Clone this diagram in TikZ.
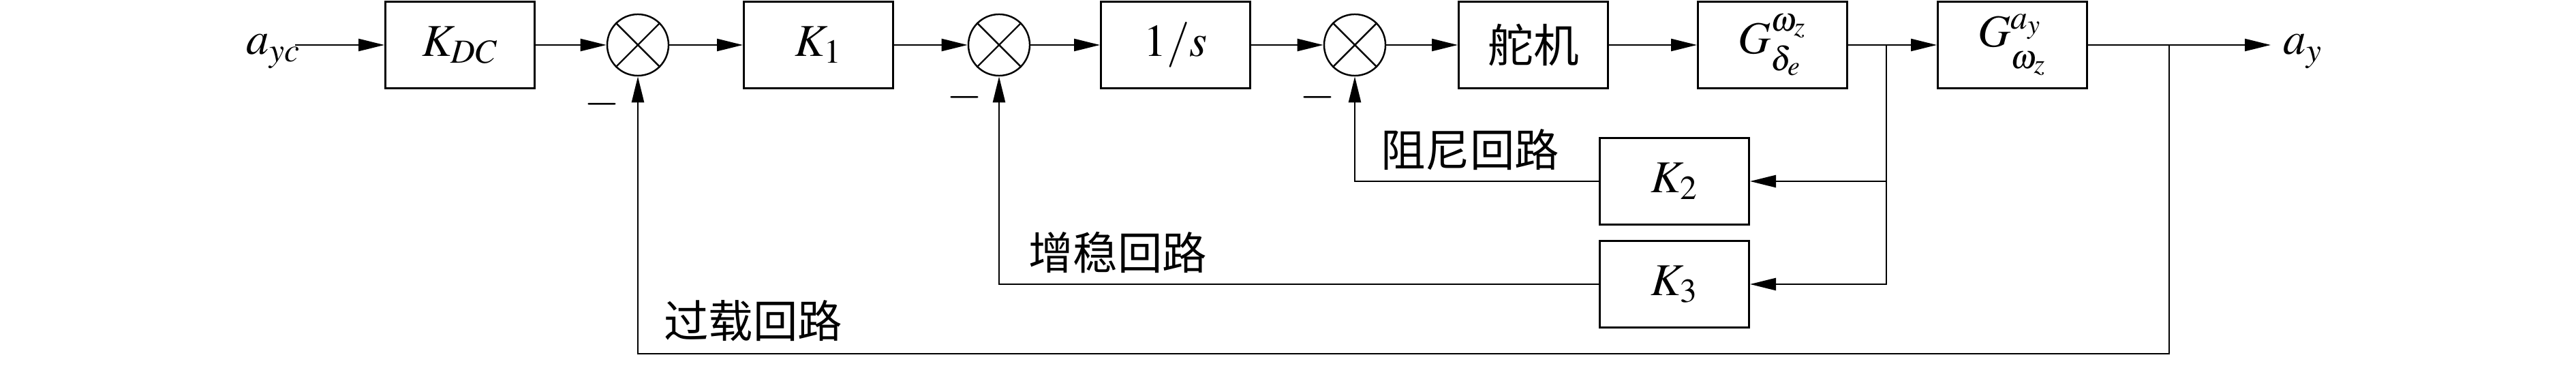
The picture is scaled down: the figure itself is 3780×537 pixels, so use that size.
\documentclass[tikz,border=0pt]{standalone}
\usepackage{mathptmx}
\usepackage{fontspec}
\newfontfamily\cjk{Noto Sans CJK SC}
\usetikzlibrary{arrows.meta}
\newcommand{\supr}[1]{\raisebox{0.05ex}{$\scriptstyle #1$}}
\newcommand{\subl}[1]{\raisebox{-0.55ex}{$\scriptstyle #1$}}
\begin{document}
\begin{tikzpicture}[x=0.01cm,y=-0.01cm,
  txt/.style={font=\fontsize{19}{22}\selectfont},
  blk/.style={draw,line width=0.8pt,minimum width=2.19cm,minimum height=1.27cm,inner sep=0pt,txt},
  sumnode/.style={draw,circle,line width=0.7pt,minimum size=0.9cm,inner sep=0pt},
  conn/.style={line width=0.7pt},
  arr/.style={conn,-{Triangle[length=0.38cm,width=0.18cm]}},
  lbl/.style={txt,inner sep=0pt},
  cjklbl/.style={inner sep=0pt,font=\cjk\fontsize{18.6}{22}\selectfont}]
\useasboundingbox (0,0) rectangle (3780,537);
% blocks
\node[blk] (kdc) at (675,66) {$K_{DC}$};
\node[sumnode] (s1) at (936,66) {};
\node[blk] (k1) at (1201,66) {$K_1$};
\node[sumnode] (s2) at (1466,66) {};
\node[blk] (int) at (1725,66) {$1/s$};
\node[sumnode] (s3) at (1988,66) {};
\node[blk] (act) at (2250,66) {\cjk 舵机};
\node[blk] (g1) at (2601,66) {$G^{\supr{\omega_z}}_{\subl{\delta_e}}$};
\node[blk] (g2) at (2953,66) {$G^{\supr{a_y}}_{\subl{\omega_z}}$};
\node[blk] (k2) at (2457,266) {$K_2$};
\node[blk] (k3) at (2457,417) {$K_3$};
% crosses in summing junctions
\foreach \s in {s1,s2,s3}{
  \draw[line width=0.7pt] (\s.north east) -- (\s.south west);
  \draw[line width=0.7pt] (\s.north west) -- (\s.south east);
}
% coordinates
\coordinate (inp) at (433,66);
\coordinate (b1) at (2768,66);
\coordinate (b2) at (3183,66);
\coordinate (outp) at (3332,66);
\coordinate (bot) at (3183,519);
% forward path
\draw[arr] (inp) -- (kdc);
\draw[arr] (kdc) -- (s1);
\draw[arr] (s1) -- (k1);
\draw[arr] (k1) -- (s2);
\draw[arr] (s2) -- (int);
\draw[arr] (int) -- (s3);
\draw[arr] (s3) -- (act);
\draw[arr] (act) -- (g1);
\draw[arr] (g1) -- (g2);
\draw[arr] (g2) -- (outp);
% feedback paths
\draw[arr] (b1) |- (k2.east);
\draw[arr] (b1) |- (k3.east);
\draw[arr] (k2.west) -| (s3.south);
\draw[arr] (k3.west) -| (s2.south);
\draw[arr] (b2) -- (bot) -| (s1.south);
% labels
\node[lbl,anchor=base west] (lin) at (361,80) {$a_{yc}$};
\node[lbl,anchor=base west] (lout) at (3350,80) {$a_y$};
\node[lbl] (m1) at (883,153) {$-$};
\node[lbl] (m2) at (1415,143) {$-$};
\node[lbl] (m3) at (1933,143) {$-$};
\node[cjklbl] (t1) at (2157,220) {阻尼回路};
\node[cjklbl] (t2) at (1640,371) {增稳回路};
\node[cjklbl] (t3) at (1105,471) {过载回路};
\end{tikzpicture}
\end{document}
